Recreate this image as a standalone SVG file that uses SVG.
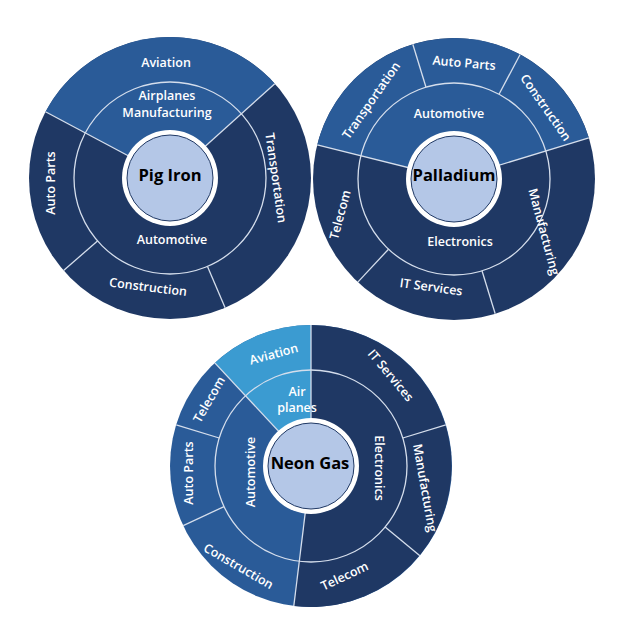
<svg xmlns="http://www.w3.org/2000/svg" width="637" height="637" viewBox="0 0 637 637">
<style>
.dk{fill:#1f3864}.md{fill:#2a5b98}.lt{fill:#3b9bd1}
.sep{stroke:#d5deec;stroke-width:1.3;fill:none}
.cw{fill:#fff}.cc{fill:#b4c7e7;stroke:#1f3864;stroke-width:1}
.t{font-family:"Open Sans","Liberation Sans",sans-serif;font-weight:600;fill:#fff;font-size:12.5px;text-anchor:middle;dominant-baseline:middle}
.c{font-family:"Open Sans","Liberation Sans",sans-serif;font-weight:700;fill:#000;font-size:16.5px;text-anchor:middle;dominant-baseline:middle}
</style>
<rect width="637" height="637" fill="#fff"/>
<g id="pig-iron">
<circle class="dk" cx="170" cy="178" r="141"/>
<path class="md" d="M170,178 L45.5,111.8 A141,141 0 0 1 274.8,83.7 Z"/>
<g class="sep"><circle cx="170" cy="178" r="96"/><line x1="170" y1="178" x2="45.5" y2="111.8"/><line x1="170" y1="178" x2="274.8" y2="83.7"/><line x1="97.5" y1="241" x2="63.6" y2="270.5"/><line x1="207.5" y1="266.4" x2="225.1" y2="307.8"/></g>
<circle class="cw" cx="170" cy="178" r="48"/><circle class="cc" cx="170" cy="178" r="43"/>
<text class="c" x="170" y="177">Pig Iron</text>
<text class="t" x="166" y="64">Aviation</text>
<text class="t" x="167" y="97" font-size="12">Airplanes</text><text class="t" x="167" y="114" font-size="12">Manufacturing</text>
<text class="t" x="172" y="241" font-size="13.5">Automotive</text>
<text class="t" transform="translate(52,183) rotate(-90)">Auto Parts</text>
<text class="t" transform="translate(148,288) rotate(7)">Construction</text>
<text class="t" transform="translate(275,178) rotate(82)" font-size="12">Transportation</text>
</g>
<g id="palladium">
<circle class="dk" cx="454" cy="179" r="141"/>
<path class="md" d="M454,179 L317.2,144.9 A141,141 0 0 1 588.8,137.8 Z"/>
<g class="sep"><circle cx="454" cy="179" r="96"/><line x1="454" y1="179" x2="317.2" y2="144.9"/><line x1="454" y1="179" x2="588.8" y2="137.8"/><line x1="426" y1="87.2" x2="412.8" y2="44.2"/><line x1="499" y1="94.2" x2="520.1" y2="54.5"/><line x1="388.5" y1="249.2" x2="357.8" y2="282.1"/><line x1="482" y1="270.8" x2="495.2" y2="313.8"/></g>
<circle class="cw" cx="454" cy="179" r="48"/><circle class="cc" cx="454" cy="179" r="43"/>
<text class="c" x="454" y="177">Palladium</text>
<text class="t" transform="translate(372,101) rotate(-55)">Transportation</text>
<text class="t" transform="translate(464,64) rotate(5)">Auto Parts</text>
<text class="t" transform="translate(545,108) rotate(55)">Construction</text>
<text class="t" x="449" y="115" font-size="13.5">Automotive</text>
<text class="t" x="460" y="243">Electronics</text>
<text class="t" transform="translate(341,215) rotate(-75)">Telecom</text>
<text class="t" transform="translate(431,288) rotate(8)" font-size="13.5">IT Services</text>
<text class="t" transform="translate(543,232) rotate(75)" font-size="12">Manufacturing</text>
</g>
<g id="neon-gas">
<circle class="md" cx="311" cy="466" r="141"/>
<path class="dk" d="M311,466 L311,325 A141,141 0 1 1 293.8,606 Z"/>
<path class="lt" d="M311,466 L214.8,362.9 A141,141 0 0 1 311,325 Z"/>
<g class="sep"><circle cx="311" cy="466" r="96"/><line x1="311" y1="466" x2="311" y2="325"/><line x1="311" y1="466" x2="214.8" y2="362.9"/><line x1="311" y1="466" x2="293.8" y2="606"/><line x1="219.2" y1="438" x2="176.2" y2="424.8"/><line x1="224" y1="506.6" x2="183.2" y2="525.6"/><line x1="402.8" y1="438" x2="445.8" y2="424.8"/><line x1="385.1" y1="527.1" x2="419.9" y2="555.7"/></g>
<circle class="cw" cx="311" cy="466" r="48"/><circle class="cc" cx="311" cy="466" r="43"/>
<text class="c" x="310" y="465">Neon Gas</text>
<text class="t" transform="translate(274,355) rotate(-15)">Aviation</text>
<text class="t" x="297" y="393" font-size="12">Air</text><text class="t" x="297" y="409" font-size="12">planes</text>
<text class="t" transform="translate(210,400) rotate(-60)">Telecom</text>
<text class="t" transform="translate(190,473) rotate(-90)">Auto Parts</text>
<text class="t" transform="translate(252,472) rotate(-90)" font-size="13.5">Automotive</text>
<text class="t" transform="translate(378,468) rotate(90)" font-size="13.5">Electronics</text>
<text class="t" transform="translate(390,376) rotate(50)">IT Services</text>
<text class="t" transform="translate(424,488) rotate(80)" font-size="12">Manufacturing</text>
<text class="t" transform="translate(238,567) rotate(30)">Construction</text>
<text class="t" transform="translate(345,577) rotate(-25)">Telecom</text>
</g>
</svg>
